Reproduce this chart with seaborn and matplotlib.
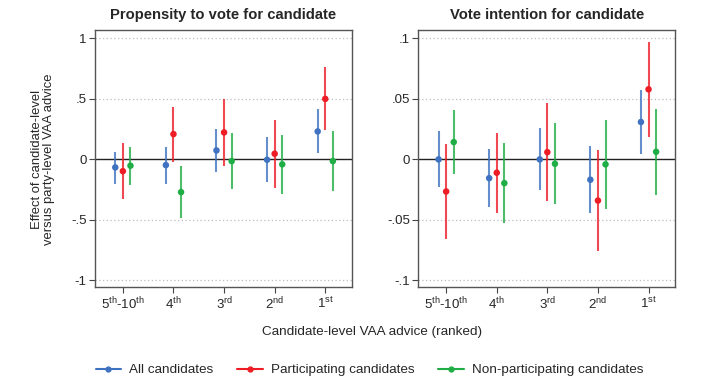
import numpy as np
import pandas as pd
import matplotlib
matplotlib.use("Agg")
import matplotlib.pyplot as plt
from matplotlib.lines import Line2D
import seaborn as sns

sns.set_theme(style="white")
plt.rcParams['font.family'] = ['Liberation Sans', 'DejaVu Sans']
plt.rcParams['mathtext.fontset'] = 'custom'
plt.rcParams['mathtext.rm'] = 'Liberation Sans'
plt.rcParams['mathtext.it'] = 'Liberation Sans'

categories = [r"5$^{\mathrm{th}}$-10$^{\mathrm{th}}$", r"4$^{\mathrm{th}}$",
              r"3$^{\mathrm{rd}}$", r"2$^{\mathrm{nd}}$", r"1$^{\mathrm{st}}$"]
groups = ["All candidates", "Participating candidates", "Non-participating candidates"]

# Panel 1: Propensity to vote
prop_all = [-0.066, -0.047, 0.074, -0.003, 0.231]
prop_all_lo = [-0.20, -0.207, -0.105, -0.188, 0.055]
prop_all_hi = [0.063, 0.105, 0.25, 0.182, 0.413]
prop_part = [-0.097, 0.209, 0.223, 0.047, 0.50]
prop_part_lo = [-0.33, -0.02, -0.055, -0.235, 0.24]
prop_part_hi = [0.135, 0.43, 0.50, 0.328, 0.763]
prop_non = [-0.052, -0.27, -0.014, -0.041, -0.014]
prop_non_lo = [-0.21, -0.486, -0.243, -0.287, -0.26]
prop_non_hi = [0.105, -0.055, 0.215, 0.20, 0.234]

# Panel 2: Vote intention
vote_all = [0.0, -0.0155, 0.0, -0.0168, 0.0309]
vote_all_lo = [-0.0232, -0.039, -0.0254, -0.0442, 0.0044]
vote_all_hi = [0.0234, 0.0083, 0.026, 0.011, 0.0573]
vote_part = [-0.0265, -0.011, 0.006, -0.034, 0.0579]
vote_part_lo = [-0.0655, -0.044, -0.0343, -0.0757, 0.0187]
vote_part_hi = [0.0127, 0.022, 0.0466, 0.0077, 0.097]
vote_non = [0.0143, -0.0196, -0.0036, -0.0041, 0.0063]
vote_non_lo = [-0.0122, -0.0525, -0.0365, -0.041, -0.0293]
vote_non_hi = [0.0408, 0.0132, 0.0297, 0.0328, 0.0416]

left_ticks = [-1, -0.5, 0, 0.5, 1]
left_ticklabels = ["-1", "-.5", "0", ".5", "1"]
right_ticks = [-0.1, -0.05, 0, 0.05, 0.1]
right_ticklabels = ["-.1", "-.05", "0", ".05", ".1"]

colors = {"All candidates": "#3f72c0", "Participating candidates": "#ee1c25",
          "Non-participating candidates": "#1fae45"}
offsets = {"All candidates": -0.15, "Participating candidates": 0.0,
           "Non-participating candidates": 0.15}

def build(est, lo, hi):
    rows = []
    for g, e, l, h in zip(groups, est, lo, hi):
        for i, c in enumerate(categories):
            rows.append(dict(group=g, cat=c, pos=i + 1 + offsets[g], est=e[i], lo=l[i], hi=h[i]))
    return pd.DataFrame(rows)

df1 = build([prop_all, prop_part, prop_non], [prop_all_lo, prop_part_lo, prop_non_lo],
            [prop_all_hi, prop_part_hi, prop_non_hi])
df2 = build([vote_all, vote_part, vote_non], [vote_all_lo, vote_part_lo, vote_non_lo],
            [vote_all_hi, vote_part_hi, vote_non_hi])

fig = plt.figure(figsize=(7.2, 3.88), dpi=100)
ax1 = fig.add_axes([0.132, 0.260, 0.357, 0.663])
ax2 = fig.add_axes([0.581, 0.260, 0.357, 0.663])

def draw(ax, df, ticks, ticklabels, ylim, title):
    for g in groups:
        sub = df[df.group == g]
        ax.vlines(sub.pos, sub.lo, sub.hi, color=colors[g], lw=1.5, alpha=0.8, zorder=2)
    sns.scatterplot(data=df, x="pos", y="est", hue="group", palette=colors, s=22,
                    edgecolor="none", legend=False, ax=ax, zorder=3)
    for t in ticks:
        if t != 0:
            ax.axhline(t, color="#bdbdbd", lw=0.9, ls=(0, (1, 2)), zorder=0)
    ax.axhline(0, color="#222222", lw=1.0, zorder=1)
    ax.set_xlim(0.45, 5.53)
    ax.set_ylim(*ylim)
    ax.set_yticks(ticks)
    ax.set_yticklabels(ticklabels)
    ax.set_xticks(range(1, 6))
    ax.set_xticklabels(categories)
    ax.set_xlabel("")
    ax.set_ylabel("")
    ax.set_title(title, fontsize=10.6, fontweight="bold", pad=8)
    ax.tick_params(axis="both", which="both", length=4, width=0.8, color="#444444",
                   labelsize=9.5, pad=2, direction="out", bottom=True, left=True)
    for sp in ax.spines.values():
        sp.set_color("#555555")
        sp.set_linewidth(1.0)

draw(ax1, df1, left_ticks, left_ticklabels, (-1.055, 1.07), "Propensity to vote for candidate")
draw(ax2, df2, right_ticks, right_ticklabels, (-0.1055, 0.107), "Vote intention for candidate")

fig.text(0.06, 0.59, "Effect of candidate-level\nversus party-level VAA advice",
         rotation=90, ha="center", va="center", fontsize=9.4, linespacing=1.05)
fig.text(0.517, 0.144, "Candidate-level VAA advice (ranked)", ha="center", va="center", fontsize=9.7)

handles = [Line2D([0], [0], color=colors[g], lw=1.5, marker="o", markersize=3.5) for g in groups]
fig.legend(handles, groups, loc="center", bbox_to_anchor=(0.513, 0.046), ncol=3, frameon=False,
           fontsize=9.7, handlelength=1.9, columnspacing=1.75, handletextpad=0.6)

fig.savefig("out.png", dpi=100, facecolor="white")
